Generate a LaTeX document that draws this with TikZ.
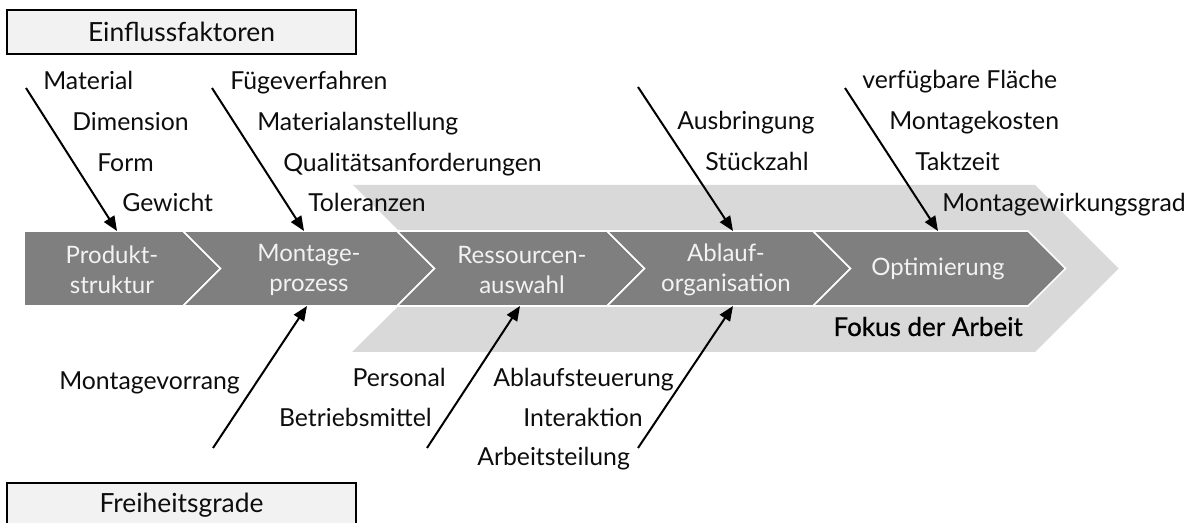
\documentclass[tikz,border=0pt]{standalone}
\usepackage{fontspec}
\setmainfont{Lato}
\usetikzlibrary{arrows.meta}
\definecolor{stepgray}{HTML}{7F7F7F}
\definecolor{focusgray}{HTML}{D9D9D9}
\definecolor{boxgray}{HTML}{F2F2F2}
\definecolor{inkblack}{HTML}{0D0D0D}
\definecolor{steptext}{HTML}{F2F2F2}

\begin{document}
\begin{tikzpicture}[x=0.75pt,y=-0.75pt,
  lbl/.style={font=\fontsize{18.6}{22}\selectfont, text=inkblack, inner sep=0pt},
  steplabel/.style={font=\fontsize{18}{22.5}\selectfont, text=steptext, align=center, inner sep=0pt},
  stepshape/.style={fill=stepgray, draw=white, line width=1.2pt, line join=miter},
  headbox/.style={draw=black, fill=boxgray, line width=0.9pt, minimum width=261.75pt,
    minimum height=33pt, inner sep=0pt, font=\fontsize{19.8}{22}\selectfont, text=inkblack},
  arr/.style={-{Triangle[length=11pt,width=9pt]}, line width=1.5pt, black}]

\useasboundingbox (0,0) rectangle (1187,523);
\clip (0,0) rectangle (1187,523);

% focus band behind the last four steps
\fill[focusgray] (353,185) -- (1035,185) -- (1118.5,268.5) -- (1035,352)
  -- (352,352) -- (436.5,268.5) -- cycle;

% process chevrons
\path[stepshape] (24,231) -- (183,231) -- (220.5,268.5) -- (183,306) -- (24,306) -- cycle;
\path[stepshape] (183,231) -- (397,231) -- (434.5,268.5) -- (397,306) -- (183,306) -- (220.5,268.5) -- cycle;
\path[stepshape] (397,231) -- (607,231) -- (644.5,268.5) -- (607,306) -- (397,306) -- (434.5,268.5) -- cycle;
\path[stepshape] (607,231) -- (813,231) -- (850.5,268.5) -- (813,306) -- (607,306) -- (644.5,268.5) -- cycle;
\path[stepshape] (813,231) -- (1028,231) -- (1065.5,268.5) -- (1028,306) -- (813,306) -- (850.5,268.5) -- cycle;

\node[steplabel] (prod)   at (112,270) {Produkt-\\struktur};
\node[steplabel] (mont)   at (309,270) {Montage-\\prozess};
\node[steplabel] (ress)   at (522,270) {Ressourcen-\\auswahl};
\node[steplabel] (ablauf) at (726,270) {Ablauf-\\organisation};
\node[steplabel] (opt)    at (938,268.5) {Optimierung};

\node[lbl, anchor=base east, text=black,
  font=\fontsize{19.5}{22}\selectfont\addfontfeature{FakeBold=0.7}] (fokus) at (1023,336) {Fokus der Arbeit};

% header boxes
\node[headbox] (einfluss) at (181.5,32) {Einflussfaktoren};
\node[headbox] (freiheit) at (181.5,505) {Freiheitsgrade};

% influencing factors
\node[lbl, anchor=base west] (material) at (43,90)  {Material};
\node[lbl, anchor=base west] (dimension) at (72,131) {Dimension};
\node[lbl, anchor=base west] (form) at (97,172)     {Form};
\node[lbl, anchor=base west] (gewicht) at (122,212) {Gewicht};

\node[lbl, anchor=base west] (fuege) at (230,90)    {Fügeverfahren};
\node[lbl, anchor=base west] (matanst) at (257,131) {Materialanstellung};
\node[lbl, anchor=base west] (quali) at (283,172)   {Qualitätsanforderungen};
\node[lbl, anchor=base west] (toler) at (308,212)   {Toleranzen};

\node[lbl, anchor=base west] (ausbr) at (677,130)   {Ausbringung};
\node[lbl, anchor=base west] (stueck) at (705,171)  {Stückzahl};

\node[lbl, anchor=base west] (flaeche) at (862,89)  {verfügbare Fläche};
\node[lbl, anchor=base west] (kosten) at (889,130)  {Montagekosten};
\node[lbl, anchor=base west] (takt) at (915,171)    {Taktzeit};
\node[lbl, anchor=base west] (wirk) at (942,212)    {Montagewirkungsgrad};

% degrees of freedom
\node[lbl, anchor=base west] (vorrang) at (59,389)  {Montagevorrang};
\node[lbl, anchor=base east] (personal) at (446,387) {Personal};
\node[lbl, anchor=base east] (betrieb) at (432,426) {Betriebsmittel};
\node[lbl, anchor=base west] (steuer) at (493,387)  {Ablaufsteuerung};
\node[lbl, anchor=base east] (interakt) at (643,426) {Interaktion};
\node[lbl, anchor=base west] (teilung) at (477,465) {Arbeitsteilung};

% arrow ends
\coordinate (a1s) at (26,88);   \coordinate (a1e) at (117,231);
\coordinate (a2s) at (212,88);  \coordinate (a2e) at (304,231);
\coordinate (a3s) at (638,87);  \coordinate (a3e) at (733,231);
\coordinate (a4s) at (845,88);  \coordinate (a4e) at (938,231);
\coordinate (b1s) at (213,448); \coordinate (b1e) at (307,306);
\coordinate (b2s) at (427,448); \coordinate (b2e) at (520,306);
\coordinate (b3s) at (638,448); \coordinate (b3e) at (733,306);

\draw[arr] (a1s) -- (a1e);
\draw[arr] (a2s) -- (a2e);
\draw[arr] (a3s) -- (a3e);
\draw[arr] (a4s) -- (a4e);
\draw[arr] (b1s) -- (b1e);
\draw[arr] (b2s) -- (b2e);
\draw[arr] (b3s) -- (b3e);
\end{tikzpicture}
\end{document}
